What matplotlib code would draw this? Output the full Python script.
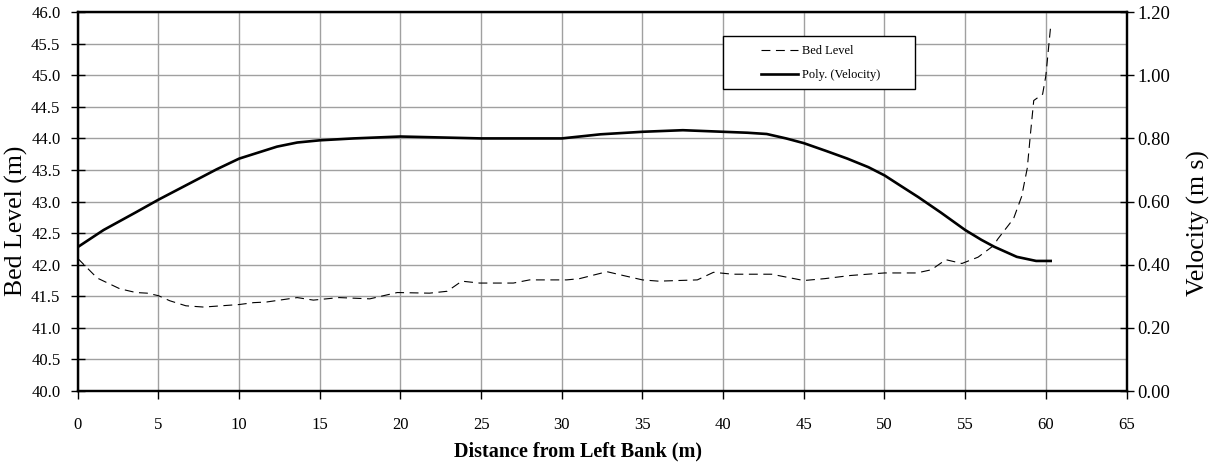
import numpy as np
import matplotlib.pyplot as plt
from matplotlib.patches import Rectangle

plt.rcParams['font.family'] = ['Liberation Serif', 'DejaVu Serif']

# bed level (distance m, level m)
bed_x = [0, 1.2, 2.6, 3.6, 4.3, 5.0, 5.7, 6.7, 7.8, 10.0, 10.9, 11.7, 13.6, 14.6,
         16.2, 18.1, 19.8, 21.8, 22.9, 23.8, 24.9, 27.0, 28.0, 30.3, 31.1, 32.8,
         33.8, 35.0, 36.0, 38.4, 39.4, 40.6, 43.0, 45.0, 46.3, 47.9, 50.0, 52.0,
         52.9, 53.8, 54.8, 55.8, 56.8, 57.0, 58.0, 58.5, 58.85, 59.05, 59.25,
         59.8, 60.0, 60.3]
bed_level = [42.10, 41.79, 41.62, 41.56, 41.55, 41.51, 41.43, 41.35, 41.33, 41.37,
             41.40, 41.41, 41.48, 41.44, 41.48, 41.46, 41.56, 41.55, 41.58, 41.74,
             41.71, 41.71, 41.76, 41.76, 41.78, 41.89, 41.83, 41.76, 41.74, 41.76,
             41.88, 41.85, 41.85, 41.75, 41.78, 41.83, 41.87, 41.87, 41.92, 42.08,
             42.02, 42.12, 42.31, 42.40, 42.73, 43.08, 43.53, 44.08, 44.60, 44.70,
             44.99, 45.78]

# polynomial velocity trend (distance m, velocity m/s)
vel_x = [0, 1.6, 3.6, 5, 7.4, 8.6, 10, 12.35, 13.6, 15, 17.1, 20, 25, 30, 32.4,
         35, 37.5, 40, 41.5, 42.7, 43.9, 45, 46.4, 47.7, 49.0, 50, 51.0, 52.1,
         53.5, 55, 56.0, 56.8, 58.2, 59.4, 60.3]
velocity = [0.456, 0.51, 0.566, 0.606, 0.67, 0.702, 0.736, 0.774, 0.787, 0.794,
            0.80, 0.806, 0.80, 0.80, 0.813, 0.821, 0.826, 0.821, 0.818, 0.814,
            0.80, 0.785, 0.76, 0.736, 0.709, 0.683, 0.650, 0.614, 0.565, 0.51,
            0.479, 0.457, 0.425, 0.412, 0.412]

bed_ticks = np.arange(40, 46.01, 0.5)
vel_ticks = np.arange(0, 1.21, 0.2)

fig = plt.figure(figsize=(12.23, 4.65), dpi=100)
ax1 = fig.add_axes([0.0636, 0.159, 0.8575, 0.815])
ax2 = ax1.twinx()

l1, = ax1.plot(bed_x, bed_level, color='black', linestyle=(0, (8, 5)), linewidth=0.8,
               label='Bed Level')
l2, = ax2.plot(vel_x, velocity, color='black', linewidth=1.9, label='Poly. (Velocity)')

ax1.set_xlim(0, 65)
ax1.set_ylim(40, 46)
ax2.set_ylim(0, 1.2)
ax1.set_xticks(np.arange(0, 66, 5))
ax1.set_yticks(bed_ticks)
ax1.set_yticklabels(['%.1f' % v for v in bed_ticks])
ax2.set_yticks(vel_ticks)
ax2.set_yticklabels(['%.2f' % v for v in vel_ticks])

ax1.grid(True, color='#a0a0a0', linewidth=1.0)
ax1.set_axisbelow(True)

for ax in (ax1, ax2):
    for s in ax.spines.values():
        s.set_linewidth(1.6)
ax1.tick_params(axis='y', direction='inout', length=10, width=1.0, labelsize=12, pad=7.5)
ax1.tick_params(axis='x', direction='out', length=6, width=1.0, labelsize=12, pad=13)
ax2.tick_params(axis='y', direction='inout', length=10, width=1.0, labelsize=13.5, pad=2.5)

ax1.set_xlabel('Distance from Left Bank (m)', fontsize=14.5, fontweight='bold')
ax1.xaxis.set_label_coords(0.477, -0.134)
ax1.set_ylabel('Bed Level (m)', fontsize=18.5)
ax1.yaxis.set_label_coords(-0.047, 0.45)
ax2.set_ylabel('Velocity (m s)', fontsize=18.5)
ax2.yaxis.set_label_coords(1.058, 0.443)

# legend box drawn separately so the entries can sit right of centre like the original
ax2.add_patch(Rectangle((0.615, 0.797), 0.183, 0.14, transform=ax2.transAxes,
                        facecolor='white', edgecolor='black', linewidth=1.0, zorder=5))
leg = ax2.legend(handles=[l1, l2], loc='upper left', bbox_to_anchor=(0.651, 0.912),
                 borderaxespad=0, borderpad=0, fontsize=9, frameon=False,
                 handlelength=3.0, handletextpad=0.3, labelspacing=0.95)
leg.set_zorder(6)

plt.savefig('out.png', dpi=100)
